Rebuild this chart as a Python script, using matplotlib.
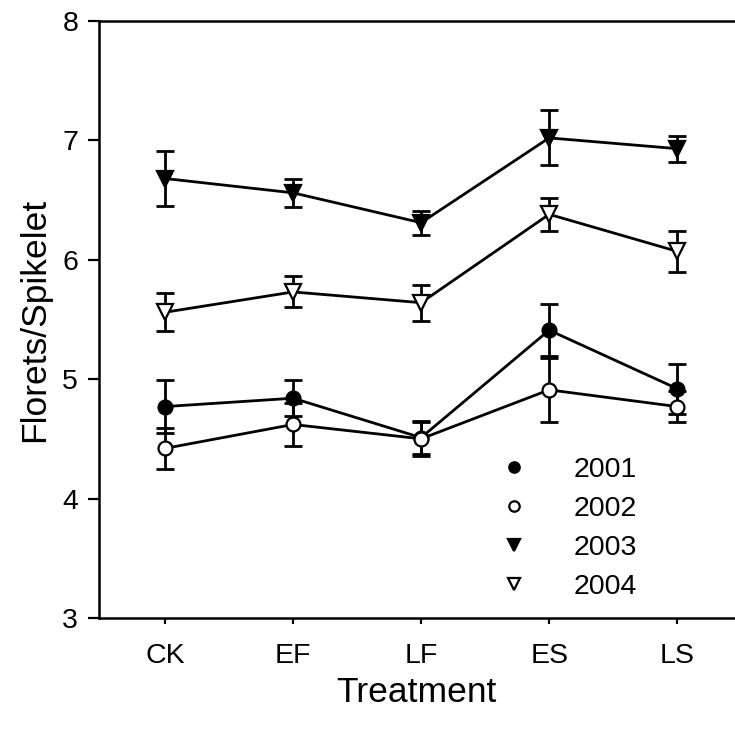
import numpy as np
import matplotlib.pyplot as plt

plt.rcParams['font.family'] = ['Liberation Sans', 'DejaVu Sans']

tratamientos = ['CK', 'EF', 'LF', 'ES', 'LS']
anios = ['2001', '2002', '2003', '2004']

# media y error por año
m2001 = [4.77, 4.84, 4.51, 5.41, 4.92]
e2001 = [0.22, 0.15, 0.14, 0.22, 0.21]
m2002 = [4.42, 4.62, 4.50, 4.91, 4.77]
e2002 = [0.17, 0.18, 0.14, 0.27, 0.13]
m2003 = [6.68, 6.56, 6.31, 7.02, 6.93]
e2003 = [0.23, 0.12, 0.10, 0.23, 0.11]
m2004 = [5.56, 5.73, 5.64, 6.38, 6.07]
e2004 = [0.16, 0.13, 0.15, 0.14, 0.17]

medias = [m2001, m2002, m2003, m2004]
errores = [e2001, e2002, e2003, e2004]
marcadores = ['o', 'o', 'v', 'v']
rellenos = ['black', 'white', 'black', 'white']
tamanos = [10, 10, 11.5, 11.5]

fig = plt.figure(figsize=(7.35, 7.33), dpi=100)
ax = fig.add_axes([0.1347, 0.157, 0.865, 0.8145])

x = np.arange(1, len(tratamientos) + 1)
for med, err, mk, fc, ms, lab in zip(medias, errores, marcadores, rellenos, tamanos, anios):
    ax.errorbar(x, med, yerr=err, color='black', lw=2.0, capsize=6.5, capthick=2.0,
                elinewidth=2.0, zorder=2)
    ax.plot(x, med, marker=mk, ms=ms, mfc=fc, mec='black', mew=1.6, ls='none',
            zorder=3, label=lab)

ax.set_xlim(0.484, 5.45)
ax.set_ylim(3, 8)
ax.set_xticks(x)
ax.set_xticklabels(tratamientos)
ax.set_yticks([3, 4, 5, 6, 7, 8])

ax.spines['right'].set_visible(False)
for s in ['left', 'bottom', 'top']:
    ax.spines[s].set_linewidth(1.8)
ax.tick_params(axis='both', labelsize=20.5, width=1.6, length=8, direction='out')
ax.tick_params(axis='x', length=4, pad=14)
ax.tick_params(axis='y', pad=7)

ax.set_xlabel('Treatment', fontsize=25.5, labelpad=5)
ax.set_ylabel('Florets/Spikelet', fontsize=25.5, labelpad=8)

ax.legend(loc='center', bbox_to_anchor=(0.738, 0.150), frameon=False, fontsize=20.5,
          markerscale=0.75, handletextpad=1.6, labelspacing=0.45, handlelength=1.0)

fig.savefig('out.png', dpi=100)
